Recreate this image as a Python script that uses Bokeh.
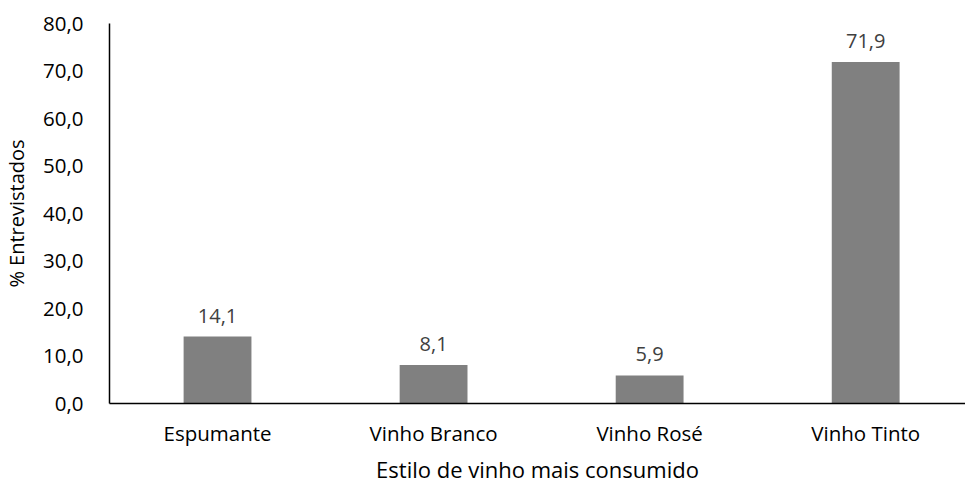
from bokeh.plotting import figure
from bokeh.models import ColumnDataSource, Range1d, FixedTicker, CustomJSTickFormatter
from bokeh.core.properties import value
from bokeh.embed import file_html
from bokeh.resources import INLINE

categories = ["Espumante", "Vinho Branco", "Vinho Rosé", "Vinho Tinto"]
values = [14.1, 8.1, 5.9, 71.9]
y_ticks = [0, 10, 20, 30, 40, 50, 60, 70, 80]
x_title = "Estilo de vinho mais consumido"
y_title = "% Entrevistados"

FONT = "Open Sans"
xs = [i + 0.5 for i in range(len(categories))]
labels = [f"{v:.1f}".replace(".", ",") for v in values]
src = ColumnDataSource(dict(x=xs, top=values, label=labels))

p = figure(width=965, height=486, output_backend="svg", toolbar_location=None,
           x_range=Range1d(0, 3.962), y_range=Range1d(0, 80),
           min_border_left=108, min_border_right=0, min_border_top=23, min_border_bottom=80)
p.outline_line_color = None
p.xgrid.visible = False
p.ygrid.visible = False
p.background_fill_color = "white"
p.border_fill_color = "white"

p.vbar(x="x", top="top", width=0.314, bottom=0, source=src, fill_color="#808080", line_color=None)
p.text(x="x", y="top", text="label", source=src, text_align="center", text_baseline="bottom",
       y_offset=-14, text_font=value(FONT), text_font_size="20px", text_color="#404040")

# x axis
p.xaxis.ticker = FixedTicker(ticks=xs)
p.xaxis.major_label_overrides = {x: c for x, c in zip(xs, categories)}
p.xaxis.minor_tick_line_color = None
p.xaxis.major_tick_line_color = None
p.xaxis.major_label_standoff = 9
p.xaxis.axis_label = x_title
p.xaxis.axis_label_standoff = 4
p.xaxis.axis_label_text_font_style = "normal"

# y axis
p.yaxis.ticker = FixedTicker(ticks=y_ticks)
p.yaxis.formatter = CustomJSTickFormatter(code="return tick.toFixed(1).replace('.', ',');")
p.yaxis.minor_tick_line_color = None
p.yaxis.major_tick_line_color = None
p.yaxis.major_label_standoff = 20
p.yaxis.axis_label = y_title
p.yaxis.axis_label_standoff = 10
p.yaxis.axis_label_text_font_style = "normal"

for ax in (p.xaxis, p.yaxis):
    ax.axis_line_color = "#000000"
    ax.axis_line_width = 1.5
    ax.major_label_text_font = FONT
    ax.major_label_text_font_size = "20.5px"
    ax.major_label_text_color = "#000000"
    ax.axis_label_text_font = FONT
    ax.axis_label_text_font_size = "20px"
    ax.axis_label_text_color = "#000000"

p.xaxis.axis_label_text_font_size = "22px"

open("out.html", "w").write(file_html(p, INLINE))
